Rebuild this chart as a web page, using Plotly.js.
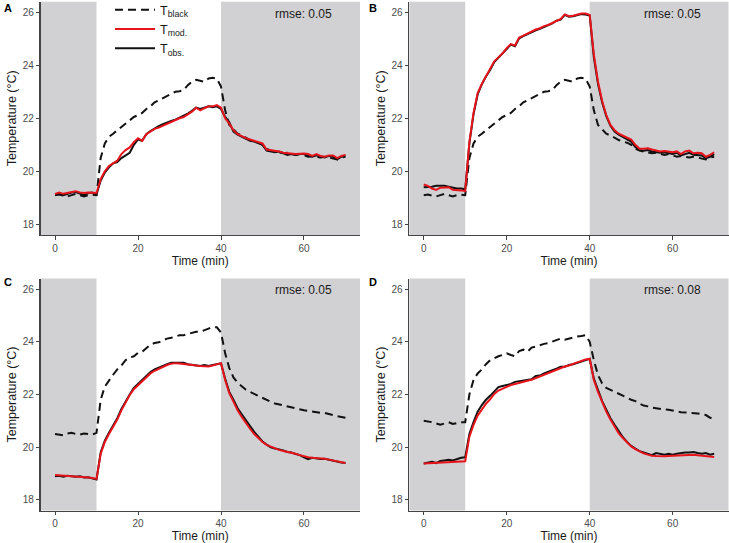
<!DOCTYPE html>
<html>
<head>
<meta charset="utf-8">
<script src="https://cdn.plot.ly/plotly-3.0.1.min.js"></script>
<style>html,body{margin:0;padding:0;background:#fff;overflow:hidden}#chart{width:729px;height:548px;margin-top:-5px}</style>
</head>
<body>
<div id="chart"></div>
<script>
const time = Array.from({length: 71}, (_, i) => i);

// Panel A
const blackA = [19.1,19.12,19.08,19.05,19.1,19.15,19.1,19.05,19.1,19.12,19.1,
20.5,21.05,21.3,21.42,21.55,21.65,21.8,21.93,22.05,22.12,22.2,22.35,22.45,22.6,22.68,22.78,22.85,22.92,23.0,23.02,
23.06,23.25,23.38,23.45,23.42,23.38,23.5,23.53,23.5,23.2,22.3,21.75,21.58,21.42,21.35,21.25,21.18,21.12,21.08,21.0,
20.85,20.78,20.75,20.72,20.68,20.7,20.65,20.62,20.65,20.6,20.55,20.58,20.55,20.52,20.55,20.52,20.48,20.45,20.52,20.55];
const modA = [19.15,19.2,19.15,19.18,19.22,19.25,19.2,19.18,19.2,19.2,19.18,
19.7,20.0,20.2,20.3,20.4,20.65,20.8,20.9,21.1,21.25,21.15,21.4,21.5,21.6,21.65,21.72,21.8,21.88,21.92,22.0,
22.05,22.15,22.25,22.4,22.3,22.38,22.45,22.45,22.5,22.4,22.0,21.8,21.55,21.4,21.32,21.25,21.2,21.15,21.1,21.05,
20.82,20.8,20.76,20.75,20.7,20.68,20.66,20.65,20.66,20.67,20.65,20.58,20.65,20.58,20.55,20.6,20.6,20.5,20.58,20.62];
const obsA = [19.12,19.15,19.1,19.15,19.2,19.22,19.15,19.1,19.18,19.2,19.12,
19.65,19.95,20.15,20.3,20.35,20.5,20.6,20.7,21.0,21.2,21.15,21.4,21.52,21.62,21.7,21.78,21.85,21.9,21.95,22.02,
22.08,22.18,22.28,22.4,22.35,22.4,22.45,22.42,22.45,22.35,22.05,21.85,21.5,21.38,21.3,21.22,21.15,21.12,21.05,21.0,
20.78,20.75,20.72,20.75,20.68,20.62,20.65,20.62,20.65,20.65,20.58,20.55,20.6,20.55,20.52,20.58,20.55,20.45,20.55,20.6];

// Panel B
const blackB = [19.1,19.12,19.08,19.05,19.1,19.15,19.1,19.05,19.1,19.12,19.1,
20.5,21.05,21.3,21.42,21.55,21.65,21.8,21.93,22.05,22.12,22.2,22.35,22.45,22.6,22.68,22.78,22.85,22.92,23.0,23.02,
23.06,23.25,23.38,23.45,23.42,23.38,23.5,23.53,23.5,23.2,22.3,21.75,21.58,21.42,21.35,21.25,21.18,21.12,21.08,21.0,
20.85,20.78,20.75,20.72,20.68,20.7,20.65,20.62,20.65,20.6,20.55,20.58,20.55,20.52,20.55,20.52,20.48,20.45,20.52,20.55];
const modB = [19.5,19.45,19.35,19.3,19.38,19.4,19.4,19.3,19.3,19.28,19.25,
21.1,22.2,22.95,23.3,23.6,23.85,24.15,24.3,24.45,24.65,24.8,24.75,25.05,25.12,25.2,25.28,25.35,25.4,25.48,25.52,
25.6,25.7,25.75,25.92,25.85,25.87,25.92,25.95,25.95,25.9,24.4,23.38,22.65,22.12,21.75,21.55,21.42,21.35,21.3,21.2,
21.0,20.85,20.85,20.87,20.82,20.78,20.75,20.77,20.75,20.72,20.75,20.65,20.75,20.78,20.68,20.7,20.68,20.55,20.62,20.72];
const obsB = [19.4,19.4,19.42,19.45,19.45,19.45,19.42,19.38,19.35,19.35,19.32,
21.05,22.15,22.9,23.28,23.58,23.82,24.12,24.28,24.42,24.62,24.78,24.72,25.02,25.1,25.18,25.25,25.32,25.38,25.45,25.5,
25.58,25.68,25.72,25.9,25.83,25.85,25.9,25.93,25.92,25.88,24.3,23.3,22.6,22.08,21.72,21.5,21.38,21.3,21.22,21.12,
20.92,20.8,20.78,20.8,20.75,20.72,20.7,20.72,20.68,20.65,20.7,20.6,20.65,20.7,20.62,20.62,20.6,20.5,20.55,20.65];

// Panel C
const blackC = [20.5,20.48,20.45,20.52,20.55,20.5,20.48,20.52,20.5,20.48,20.55,
21.8,22.3,22.55,22.75,22.95,23.1,23.3,23.4,23.45,23.58,23.62,23.75,23.9,23.95,23.98,24.05,24.12,24.15,24.2,24.25,
24.25,24.3,24.35,24.38,24.38,24.45,24.5,24.55,24.55,24.35,23.56,23.0,22.65,22.45,22.3,22.18,22.1,22.02,21.95,21.88,
21.8,21.72,21.66,21.62,21.58,21.55,21.5,21.47,21.43,21.4,21.38,21.35,21.33,21.3,21.3,21.27,21.22,21.18,21.15,21.12];
const modC = [18.95,18.94,18.93,18.92,18.91,18.9,18.88,18.87,18.85,18.83,18.8,
19.75,20.2,20.5,20.75,21.05,21.4,21.7,21.98,22.2,22.35,22.52,22.66,22.8,22.9,22.98,23.06,23.12,23.17,23.19,23.18,
23.16,23.14,23.1,23.09,23.08,23.07,23.06,23.1,23.15,23.19,22.55,22.05,21.73,21.4,21.15,20.9,20.7,20.5,20.33,20.2,
20.09,20.02,19.95,19.9,19.86,19.83,19.79,19.75,19.7,19.65,19.62,19.6,19.59,19.57,19.56,19.53,19.49,19.46,19.42,19.4];
const obsC = [18.9,18.92,18.88,18.92,18.9,18.88,18.9,18.85,18.86,18.82,18.78,
19.8,20.25,20.55,20.8,21.1,21.45,21.75,22.0,22.25,22.4,22.55,22.7,22.85,22.95,23.02,23.1,23.15,23.2,23.2,23.22,
23.2,23.15,23.12,23.1,23.08,23.12,23.08,23.12,23.15,23.18,22.6,22.1,21.8,21.48,21.25,21.0,20.8,20.58,20.38,20.22,
20.1,20.0,19.95,19.92,19.88,19.82,19.8,19.74,19.7,19.62,19.55,19.6,19.58,19.55,19.56,19.52,19.48,19.45,19.42,19.4];

// Panel D
const blackD = [21.0,20.98,20.95,20.9,20.85,20.9,20.95,20.88,20.92,20.95,20.95,
22.0,22.55,22.8,22.95,23.15,23.3,23.38,23.45,23.5,23.56,23.5,23.45,23.65,23.7,23.62,23.78,23.82,23.88,23.92,23.95,
24.0,24.05,24.12,24.08,24.12,24.18,24.2,24.22,24.25,24.0,23.3,22.74,22.42,22.25,22.18,22.11,22.05,21.95,21.88,21.8,
21.75,21.65,21.58,21.55,21.5,21.48,21.45,21.43,21.42,21.4,21.36,21.33,21.32,21.3,21.3,21.28,21.25,21.22,21.12,21.08];
const modD = [19.38,19.39,19.4,19.4,19.41,19.42,19.43,19.44,19.45,19.46,19.47,
20.4,20.85,21.2,21.45,21.65,21.82,22.02,22.15,22.23,22.3,22.36,22.4,22.45,22.5,22.52,22.56,22.62,22.7,22.76,22.82,
22.88,22.95,23.0,23.06,23.1,23.17,23.22,23.27,23.33,23.35,22.55,22.1,21.7,21.35,21.05,20.78,20.52,20.35,20.17,20.03,
19.93,19.84,19.77,19.72,19.68,19.67,19.66,19.66,19.67,19.68,19.68,19.7,19.71,19.72,19.71,19.7,19.68,19.67,19.65,19.63];
const obsD = [19.38,19.42,19.45,19.4,19.48,19.5,19.52,19.5,19.55,19.6,19.62,
20.5,20.95,21.35,21.6,21.8,21.95,22.12,22.28,22.32,22.36,22.4,22.48,22.5,22.52,22.55,22.58,22.7,22.72,22.8,22.85,
22.92,22.98,23.05,23.05,23.12,23.15,23.2,23.25,23.3,23.35,22.6,22.15,21.75,21.42,21.1,20.85,20.6,20.38,20.2,20.05,
19.95,19.85,19.8,19.75,19.7,19.78,19.75,19.72,19.75,19.72,19.75,19.78,19.8,19.8,19.82,19.78,19.75,19.78,19.72,19.75];

const panelLetters = ['A','B','C','D'];
const rmseLabels = ['rmse: 0.05','rmse: 0.05','rmse: 0.05','rmse: 0.08'];
const seriesNames = ['T<sub>black</sub>','T<sub>mod.</sub>','T<sub>obs.</sub>'];
const lightPeriods = [[-3.5,10],[40,73.5]];
const yTicks = [18,20,22,24,26];
const xTicks = [0,20,40,60];

const panels = [
  {black: blackA, mod: modA, obs: obsA},
  {black: blackB, mod: modB, obs: obsB},
  {black: blackC, mod: modC, obs: obsC},
  {black: blackD, mod: modD, obs: obsD}
];

const W = 729, OFF = 5, H = 543 + OFF;
const py = p => 1 - (p + OFF) / H;   // page pixel row -> paper fraction
const geo = [
  {x0: 40.5, x1: 360, y0: 1.7, y1: 234.9},
  {x0: 409.2, x1: 728.7, y0: 1.7, y1: 234.9},
  {x0: 40.5, x1: 360, y0: 278.5, y1: 510.5},
  {x0: 409.2, x1: 728.7, y0: 278.5, y1: 510.5}
];
const letterPos = [[2,8],[367,8],[2,282],[367,282]];

const RED = '#e8141c';
const traces = [];
const layout = {
  width: W, height: H,
  margin: {l:0, r:0, t:0, b:0},
  paper_bgcolor: '#fff', plot_bgcolor: 'rgba(0,0,0,0)',
  font: {family: 'Liberation Sans, Arial, sans-serif', color: '#1a1a1a'},
  showlegend: true,
  legend: {x: 110/W, y: 1, xanchor: 'left', yanchor: 'top', bgcolor: 'rgba(0,0,0,0)',
           font: {size: 12.5, color: '#1a1a1a'}, itemwidth: 40, tracegroupgap: 0},
  shapes: [], annotations: []
};

panels.forEach((p, i) => {
  const n = i === 0 ? '' : String(i + 1);
  const xa = 'x' + n, ya = 'y' + n;
  const g = geo[i];
  layout['xaxis' + n] = {
    domain: [g.x0 / W, g.x1 / W], range: [-3.5, 73.5], anchor: ya,
    tickvals: xTicks, ticktext: xTicks.map(String), ticks: 'outside', ticklen: 3.5, tickcolor: '#444', tickwidth: 1,
    showline: true, linecolor: '#444', linewidth: 1.2, showgrid: false, zeroline: false, mirror: false,
    tickfont: {size: 10, color: '#4d4d4d'},
    title: {text: 'Time (min)', font: {size: 12, color: '#1a1a1a'}, standoff: 0}, fixedrange: true
  };
  layout['yaxis' + n] = {
    domain: [py(g.y1), py(g.y0)], range: [17.6, 26.4], anchor: xa,
    tickvals: yTicks, ticktext: yTicks.map(String), ticks: 'outside', ticklen: 3.5, tickcolor: '#444', tickwidth: 1,
    showline: true, linecolor: '#444', linewidth: 1.2, showgrid: false, zeroline: false,
    tickfont: {size: 10, color: '#4d4d4d'},
    title: {text: 'Temperature (°C)', font: {size: 12.5, color: '#1a1a1a'}, standoff: 3}, fixedrange: true
  };
  lightPeriods.forEach(([a, b]) => {
    layout.shapes.push({type: 'rect', xref: xa, yref: ya + ' domain', x0: a, x1: b, y0: 0, y1: 1,
      fillcolor: '#d1d0d2', line: {width: 0}, layer: 'below'});
  });
  traces.push({x: time, y: p.black, xaxis: xa, yaxis: ya, type: 'scatter', mode: 'lines', name: seriesNames[0],
    line: {color: '#111', width: 2, dash: '8px,5px'}, showlegend: i === 0, legendrank: 1, hoverinfo: 'skip'});
  traces.push({x: time, y: p.obs, xaxis: xa, yaxis: ya, type: 'scatter', mode: 'lines', name: seriesNames[2],
    line: {color: '#111', width: 2}, showlegend: i === 0, legendrank: 3, hoverinfo: 'skip'});
  traces.push({x: time, y: p.mod, xaxis: xa, yaxis: ya, type: 'scatter', mode: 'lines', name: seriesNames[1],
    line: {color: RED, width: 2}, showlegend: i === 0, legendrank: 2, hoverinfo: 'skip'});
  layout.annotations.push({xref: xa, yref: ya, x: 60, y: 25.95, text: rmseLabels[i], showarrow: false,
    font: {size: 12, color: '#1a1a1a'}, xanchor: 'center', yanchor: 'middle'});
  layout.annotations.push({xref: 'paper', yref: 'paper', x: letterPos[i][0] / W, y: py(letterPos[i][1]),
    text: '<b>' + panelLetters[i] + '</b>', showarrow: false, font: {size: 11, color: '#000'},
    xanchor: 'left', yanchor: 'middle'});
});

Plotly.newPlot('chart', traces, layout, {displayModeBar: false, staticPlot: true});
</script>
</body>
</html>
